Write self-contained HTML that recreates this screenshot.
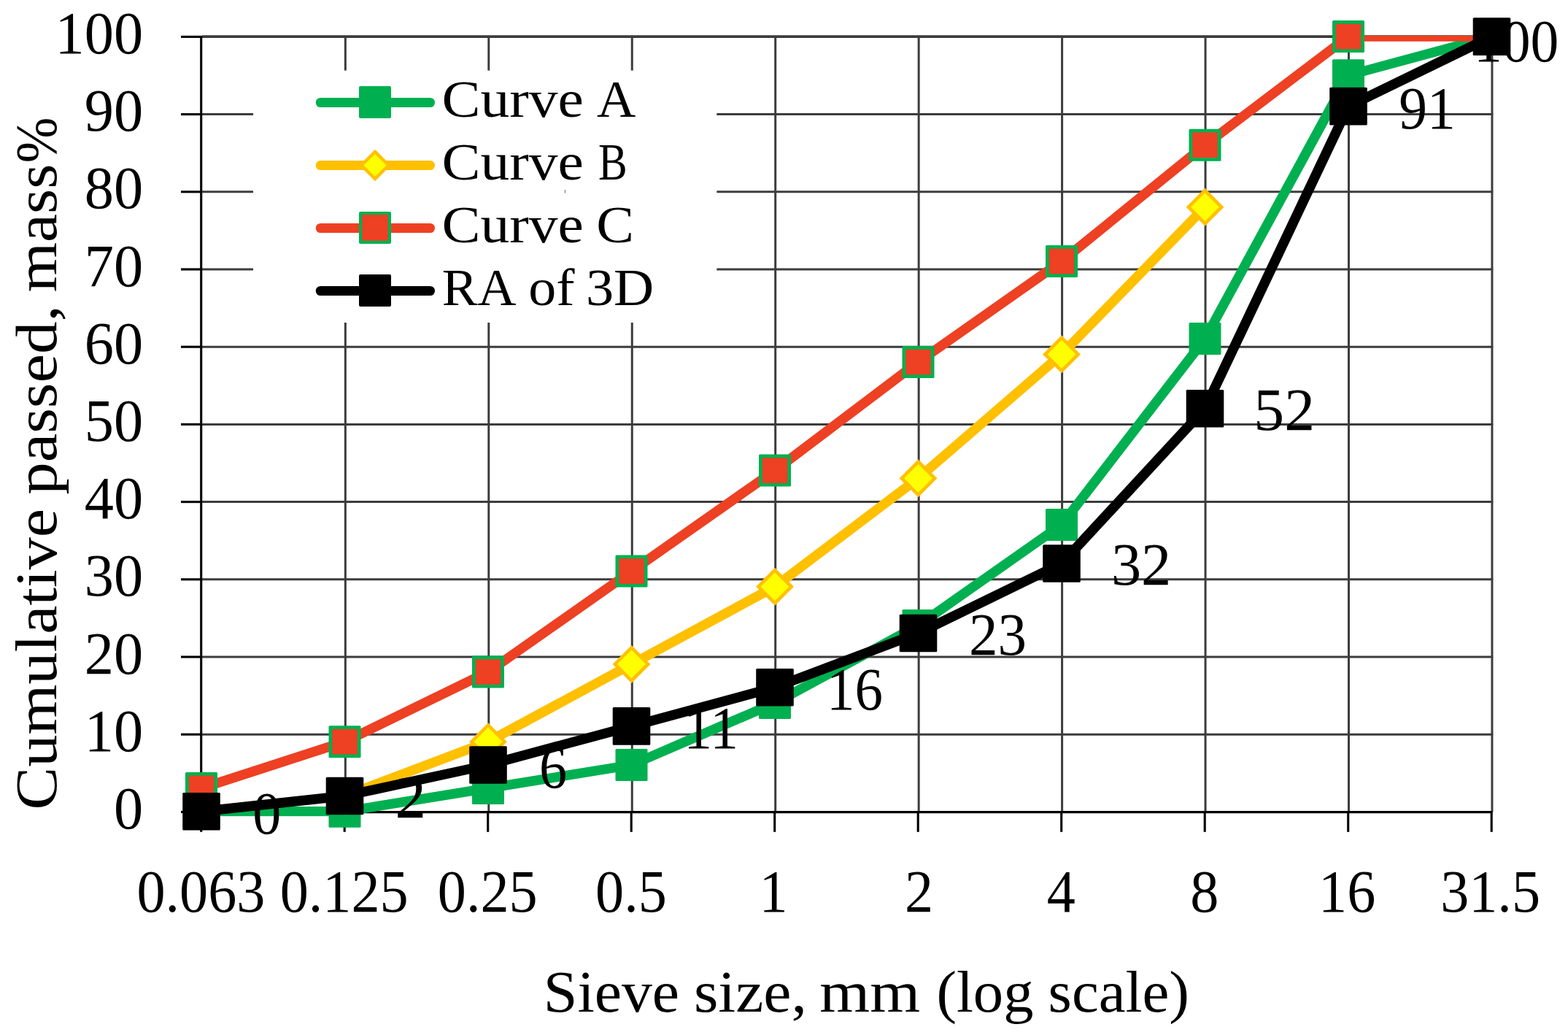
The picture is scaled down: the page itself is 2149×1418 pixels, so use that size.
<!DOCTYPE html>
<html lang="en"><head><meta charset="utf-8"><title>Sieve curve</title>
<style>html,body{margin:0;padding:0;background:#fff;overflow:hidden;}svg{display:block;}text{font-family:"Liberation Serif","DejaVu Serif",serif;fill:#000;}</style></head><body>
<svg width="2149" height="1418" viewBox="0 0 2149 1418">
<rect x="0" y="0" width="2149" height="1418" fill="#fff"/>
<defs><clipPath id="plot"><rect x="200" y="48.8" width="1949" height="1070"/></clipPath></defs>
<g stroke="#3c3c3c" stroke-width="3.0" fill="none">
<line x1="276.9" y1="1006.20" x2="2046.2" y2="1006.20"/>
<line x1="276.9" y1="900.00" x2="2046.2" y2="900.00"/>
<line x1="276.9" y1="793.80" x2="2046.2" y2="793.80"/>
<line x1="276.9" y1="687.60" x2="2046.2" y2="687.60"/>
<line x1="276.9" y1="581.40" x2="2046.2" y2="581.40"/>
<line x1="276.9" y1="475.20" x2="2046.2" y2="475.20"/>
<line x1="276.9" y1="369.00" x2="2046.2" y2="369.00"/>
<line x1="276.9" y1="262.80" x2="2046.2" y2="262.80"/>
<line x1="276.9" y1="156.60" x2="2046.2" y2="156.60"/>
<line x1="276.9" y1="50.05" x2="2046.2" y2="50.05" stroke-width="3.7"/>
<line x1="473.35" y1="49.2" x2="473.35" y2="1112.4"/>
<line x1="669.80" y1="49.2" x2="669.80" y2="1112.4"/>
<line x1="866.25" y1="49.2" x2="866.25" y2="1112.4"/>
<line x1="1062.70" y1="49.2" x2="1062.70" y2="1112.4"/>
<line x1="1259.15" y1="49.2" x2="1259.15" y2="1112.4"/>
<line x1="1455.60" y1="49.2" x2="1455.60" y2="1112.4"/>
<line x1="1652.05" y1="49.2" x2="1652.05" y2="1112.4"/>
<line x1="1848.50" y1="49.2" x2="1848.50" y2="1112.4"/>
<line x1="2044.95" y1="49.2" x2="2044.95" y2="1112.4"/>
</g>
<rect x="347" y="96.6" width="635.3" height="345.4" fill="#fff"/>
<rect x="773.8" y="260" width="1.4" height="4.5" fill="#888"/>
<g stroke="#000" fill="none">
<line x1="275.70" y1="48.9" x2="275.70" y2="1114.3" stroke-width="3.1"/>
<line x1="274.20" y1="1112.60" x2="2045.55" y2="1112.60" stroke-width="3.4"/>
</g>
<g stroke="#000" stroke-width="3.1" fill="none">
<line x1="248" y1="1112.40" x2="275.7" y2="1112.40"/>
<line x1="248" y1="1006.20" x2="275.7" y2="1006.20"/>
<line x1="248" y1="900.00" x2="275.7" y2="900.00"/>
<line x1="248" y1="793.80" x2="275.7" y2="793.80"/>
<line x1="248" y1="687.60" x2="275.7" y2="687.60"/>
<line x1="248" y1="581.40" x2="275.7" y2="581.40"/>
<line x1="248" y1="475.20" x2="275.7" y2="475.20"/>
<line x1="248" y1="369.00" x2="275.7" y2="369.00"/>
<line x1="248" y1="262.80" x2="275.7" y2="262.80"/>
<line x1="248" y1="156.60" x2="275.7" y2="156.60"/>
<line x1="248" y1="50.40" x2="275.7" y2="50.40"/>
<line x1="275.70" y1="1112.6" x2="275.70" y2="1139.8"/>
<line x1="472.20" y1="1112.6" x2="472.20" y2="1139.8"/>
<line x1="668.70" y1="1112.6" x2="668.70" y2="1139.8"/>
<line x1="865.20" y1="1112.6" x2="865.20" y2="1139.8"/>
<line x1="1061.70" y1="1112.6" x2="1061.70" y2="1139.8"/>
<line x1="1258.20" y1="1112.6" x2="1258.20" y2="1139.8"/>
<line x1="1454.70" y1="1112.6" x2="1454.70" y2="1139.8"/>
<line x1="1651.20" y1="1112.6" x2="1651.20" y2="1139.8"/>
<line x1="1847.70" y1="1112.6" x2="1847.70" y2="1139.8"/>
<line x1="2044.20" y1="1112.6" x2="2044.20" y2="1139.8"/>
</g>
<g clip-path="url(#plot)" fill="none" stroke-linejoin="round" stroke-linecap="round">
<polyline points="276.0,1111.7 472.5,1111.7 669.0,1079.9 865.5,1048.0 1062.0,963.1 1258.5,856.9 1455.0,718.9 1651.5,464.1 1848.0,103.2 2044.5,50.1" stroke="#00B050" stroke-width="13.3"/>
</g>
<rect x="254.0" y="1089.7" width="44.0" height="44.0" rx="1.5" fill="#00B050"/>
<rect x="450.5" y="1089.7" width="44.0" height="44.0" rx="1.5" fill="#00B050"/>
<rect x="647.0" y="1057.9" width="44.0" height="44.0" rx="1.5" fill="#00B050"/>
<rect x="843.5" y="1026.0" width="44.0" height="44.0" rx="1.5" fill="#00B050"/>
<rect x="1040.0" y="941.1" width="44.0" height="44.0" rx="1.5" fill="#00B050"/>
<rect x="1236.5" y="834.9" width="44.0" height="44.0" rx="1.5" fill="#00B050"/>
<rect x="1433.0" y="696.9" width="44.0" height="44.0" rx="1.5" fill="#00B050"/>
<rect x="1629.5" y="442.1" width="44.0" height="44.0" rx="1.5" fill="#00B050"/>
<rect x="1826.0" y="81.2" width="44.0" height="44.0" rx="1.5" fill="#00B050"/>
<rect x="2022.5" y="28.1" width="44.0" height="44.0" rx="1.5" fill="#00B050"/>
<g clip-path="url(#plot)" fill="none" stroke-linejoin="round" stroke-linecap="round">
<polyline points="472.5,1090.5 669.0,1016.2 865.5,910.0 1062.0,803.8 1258.5,655.2 1455.0,485.4 1651.5,283.7" stroke="#FFC000" stroke-width="13.3"/>
</g>
<path d="M472.5 1067.7L495.2 1090.5L472.5 1113.2L449.8 1090.5Z" fill="#FFFF00" stroke="#FFC000" stroke-width="4.6" stroke-linejoin="miter" stroke-miterlimit="4"/>
<path d="M669.0 993.4L691.7 1016.2L669.0 1038.9L646.3 1016.2Z" fill="#FFFF00" stroke="#FFC000" stroke-width="4.6" stroke-linejoin="miter" stroke-miterlimit="4"/>
<path d="M865.5 887.2L888.2 910.0L865.5 932.7L842.8 910.0Z" fill="#FFFF00" stroke="#FFC000" stroke-width="4.6" stroke-linejoin="miter" stroke-miterlimit="4"/>
<path d="M1062.0 781.1L1084.7 803.8L1062.0 826.6L1039.3 803.8Z" fill="#FFFF00" stroke="#FFC000" stroke-width="4.6" stroke-linejoin="miter" stroke-miterlimit="4"/>
<path d="M1258.5 632.5L1281.2 655.2L1258.5 678.0L1235.8 655.2Z" fill="#FFFF00" stroke="#FFC000" stroke-width="4.6" stroke-linejoin="miter" stroke-miterlimit="4"/>
<path d="M1455.0 462.6L1477.7 485.4L1455.0 508.1L1432.3 485.4Z" fill="#FFFF00" stroke="#FFC000" stroke-width="4.6" stroke-linejoin="miter" stroke-miterlimit="4"/>
<path d="M1651.5 260.9L1674.2 283.7L1651.5 306.4L1628.8 283.7Z" fill="#FFFF00" stroke="#FFC000" stroke-width="4.6" stroke-linejoin="miter" stroke-miterlimit="4"/>
<g clip-path="url(#plot)" fill="none" stroke-linejoin="round" stroke-linecap="round">
<polyline points="276.0,1079.9 472.5,1016.2 669.0,920.6 865.5,782.6 1062.0,644.6 1258.5,496.0 1455.0,358.0 1651.5,198.7 1848.0,50.1 2044.5,50.1" stroke="#EE4023" stroke-width="13.3"/>
</g>
<rect x="254.0" y="1057.9" width="44.0" height="44.0" rx="1.5" fill="#00B050"/><rect x="258.7" y="1062.6" width="34.6" height="34.6" fill="#EE4023"/>
<rect x="450.5" y="994.2" width="44.0" height="44.0" rx="1.5" fill="#00B050"/><rect x="455.2" y="998.9" width="34.6" height="34.6" fill="#EE4023"/>
<rect x="647.0" y="898.6" width="44.0" height="44.0" rx="1.5" fill="#00B050"/><rect x="651.7" y="903.3" width="34.6" height="34.6" fill="#EE4023"/>
<rect x="843.5" y="760.6" width="44.0" height="44.0" rx="1.5" fill="#00B050"/><rect x="848.2" y="765.3" width="34.6" height="34.6" fill="#EE4023"/>
<rect x="1040.0" y="622.6" width="44.0" height="44.0" rx="1.5" fill="#00B050"/><rect x="1044.7" y="627.3" width="34.6" height="34.6" fill="#EE4023"/>
<rect x="1236.5" y="474.0" width="44.0" height="44.0" rx="1.5" fill="#00B050"/><rect x="1241.2" y="478.7" width="34.6" height="34.6" fill="#EE4023"/>
<rect x="1433.0" y="336.0" width="44.0" height="44.0" rx="1.5" fill="#00B050"/><rect x="1437.7" y="340.7" width="34.6" height="34.6" fill="#EE4023"/>
<rect x="1629.5" y="176.7" width="44.0" height="44.0" rx="1.5" fill="#00B050"/><rect x="1634.2" y="181.4" width="34.6" height="34.6" fill="#EE4023"/>
<rect x="1826.0" y="28.1" width="44.0" height="44.0" rx="1.5" fill="#00B050"/><rect x="1830.7" y="32.8" width="34.6" height="34.6" fill="#EE4023"/>
<rect x="2022.5" y="28.1" width="44.0" height="44.0" rx="1.5" fill="#00B050"/><rect x="2027.2" y="32.8" width="34.6" height="34.6" fill="#EE4023"/>
<g clip-path="url(#plot)" fill="none" stroke-linejoin="round" stroke-linecap="round">
<polyline points="276.0,1111.7 472.5,1090.5 669.0,1048.0 865.5,994.9 1062.0,941.8 1258.5,867.5 1455.0,772.0 1651.5,559.7 1848.0,145.6 2044.5,50.1" stroke="#000000" stroke-width="13.5"/>
</g>
<rect x="250.2" y="1085.9" width="51.6" height="51.6" rx="1.5" fill="#000000"/>
<rect x="446.7" y="1064.7" width="51.6" height="51.6" rx="1.5" fill="#000000"/>
<rect x="643.2" y="1022.2" width="51.6" height="51.6" rx="1.5" fill="#000000"/>
<rect x="839.7" y="969.1" width="51.6" height="51.6" rx="1.5" fill="#000000"/>
<rect x="1036.2" y="916.0" width="51.6" height="51.6" rx="1.5" fill="#000000"/>
<rect x="1232.7" y="841.7" width="51.6" height="51.6" rx="1.5" fill="#000000"/>
<rect x="1429.2" y="746.2" width="51.6" height="51.6" rx="1.5" fill="#000000"/>
<rect x="1625.7" y="533.9" width="51.6" height="51.6" rx="1.5" fill="#000000"/>
<rect x="1822.2" y="119.8" width="51.6" height="51.6" rx="1.5" fill="#000000"/>
<rect x="2018.7" y="24.3" width="51.6" height="51.6" rx="1.5" fill="#000000"/>
<g>
<text transform="translate(346.26,1141.80) scale(0.9771,1.0300)" font-size="80">0</text>
<text transform="translate(541.55,1119.70) scale(1.0607,1.0300)" font-size="80">2</text>
<text transform="translate(739.01,1078.80) scale(0.9545,1.0300)" font-size="80">6</text>
<text transform="translate(937.35,1025.30) scale(0.9682,1.0300)" font-size="80">11</text>
<text transform="translate(1133.08,972.20) scale(0.9628,1.0300)" font-size="80">16</text>
<text transform="translate(1327.93,897.40) scale(0.9880,1.0300)" font-size="80">23</text>
<text transform="translate(1522.94,801.00) scale(1.0290,1.0300)" font-size="80">32</text>
<text transform="translate(1718.37,588.80) scale(1.0469,1.0300)" font-size="80">52</text>
<text transform="translate(1917.17,175.60) scale(0.9708,1.0300)" font-size="80">91</text>
<text transform="translate(2019.93,84.30) scale(0.9708,1.0300)" font-size="80">100</text>
</g>
<g>
<text transform="translate(155.91,1135.00) scale(1.0050,1.0300)" font-size="80">0</text>
<text transform="translate(115.71,1028.80) scale(1.0050,1.0300)" font-size="80">10</text>
<text transform="translate(115.71,922.60) scale(1.0050,1.0300)" font-size="80">20</text>
<text transform="translate(115.71,816.40) scale(1.0050,1.0300)" font-size="80">30</text>
<text transform="translate(115.71,710.20) scale(1.0050,1.0300)" font-size="80">40</text>
<text transform="translate(115.71,604.00) scale(1.0050,1.0300)" font-size="80">50</text>
<text transform="translate(115.71,497.80) scale(1.0050,1.0300)" font-size="80">60</text>
<text transform="translate(115.71,391.60) scale(1.0050,1.0300)" font-size="80">70</text>
<text transform="translate(115.71,285.40) scale(1.0050,1.0300)" font-size="80">80</text>
<text transform="translate(115.71,179.20) scale(1.0050,1.0300)" font-size="80">90</text>
<text transform="translate(75.51,73.00) scale(1.0050,1.0300)" font-size="80">100</text>
</g>
<g>
<text transform="translate(187.43,1249.20) scale(0.9780,1.0300)" font-size="80">0.063</text>
<text transform="translate(383.68,1249.20) scale(0.9780,1.0300)" font-size="80">0.125</text>
<text transform="translate(599.84,1249.20) scale(0.9780,1.0300)" font-size="80">0.25</text>
<text transform="translate(816.10,1249.20) scale(0.9780,1.0300)" font-size="80">0.5</text>
<text transform="translate(1040.42,1249.20) scale(0.9780,1.0300)" font-size="80">1</text>
<text transform="translate(1239.95,1249.20) scale(0.9780,1.0300)" font-size="80">2</text>
<text transform="translate(1434.64,1249.20) scale(0.9780,1.0300)" font-size="80">4</text>
<text transform="translate(1631.14,1249.20) scale(0.9780,1.0300)" font-size="80">8</text>
<text transform="translate(1807.03,1249.20) scale(0.9780,1.0300)" font-size="80">16</text>
<text transform="translate(1974.13,1249.20) scale(0.9780,1.0300)" font-size="80">31.5</text>
</g>
<text transform="translate(0,1386.00) scale(1,1.0000)" font-size="81" y="0" xml:space="preserve"><tspan x="744.76" textLength="186.28" lengthAdjust="spacingAndGlyphs">Sieve</tspan> <tspan x="950.92" textLength="155.05" lengthAdjust="spacingAndGlyphs">size,</tspan> <tspan x="1123.22" textLength="137.87" lengthAdjust="spacingAndGlyphs">mm</tspan> <tspan x="1283.42" textLength="133.07" lengthAdjust="spacingAndGlyphs">(log</tspan> <tspan x="1436.61" textLength="193.39" lengthAdjust="spacingAndGlyphs">scale)</tspan></text>
<text transform="translate(76.50,0) rotate(-90) scale(1,1.0000)" font-size="81" y="0" xml:space="preserve"><tspan x="-1109.66" textLength="412.71" lengthAdjust="spacingAndGlyphs">Cumulative</tspan> <tspan x="-677.79" textLength="259.55" lengthAdjust="spacingAndGlyphs">passed,</tspan> <tspan x="-400.37" textLength="175.69" lengthAdjust="spacingAndGlyphs">mass</tspan><tspan x="-223.35" textLength="62.70" lengthAdjust="spacingAndGlyphs">%</tspan></text>
<line x1="439.3" y1="140.5" x2="589.5" y2="140.5" stroke="#00B050" stroke-width="13.1" stroke-linecap="round"/>
<rect x="492.0" y="118.0" width="44.0" height="44.0" rx="2" fill="#00B050"/>
<text transform="translate(0,159.80) scale(1,1.0400)" font-size="70" y="0" xml:space="preserve"><tspan x="605.52" textLength="194.23" lengthAdjust="spacingAndGlyphs">Curve</tspan> <tspan x="817.90" textLength="53.35" lengthAdjust="spacingAndGlyphs">A</tspan></text>
<line x1="439.3" y1="226.5" x2="589.5" y2="226.5" stroke="#FFC000" stroke-width="13.1" stroke-linecap="round"/>
<path d="M514.0 207.9L532.6 226.5L514.0 245.1L495.4 226.5Z" fill="#FFFF00" stroke="#FFC000" stroke-width="4.4" stroke-linejoin="miter" stroke-miterlimit="4"/>
<text transform="translate(0,245.80) scale(1,1.0400)" font-size="70" y="0" xml:space="preserve"><tspan x="605.52" textLength="194.23" lengthAdjust="spacingAndGlyphs">Curve</tspan> <tspan x="820.07" textLength="39.73" lengthAdjust="spacingAndGlyphs">B</tspan></text>
<line x1="439.3" y1="312.5" x2="589.5" y2="312.5" stroke="#EE4023" stroke-width="13.1" stroke-linecap="round"/>
<rect x="492.0" y="290.0" width="44.0" height="44.0" rx="2" fill="#00B050"/><rect x="496.2" y="294.2" width="35.6" height="35.6" fill="#EE4023"/>
<text transform="translate(0,331.80) scale(1,1.0400)" font-size="70" y="0" xml:space="preserve"><tspan x="605.52" textLength="194.23" lengthAdjust="spacingAndGlyphs">Curve</tspan> <tspan x="817.38" textLength="51.67" lengthAdjust="spacingAndGlyphs">C</tspan></text>
<line x1="439.3" y1="398.5" x2="589.5" y2="398.5" stroke="#000000" stroke-width="13.1" stroke-linecap="round"/>
<rect x="492.0" y="376.0" width="44.0" height="44.0" rx="2" fill="#000000"/>
<text transform="translate(0,417.80) scale(1,1.0400)" font-size="70" y="0" xml:space="preserve"><tspan x="605.76" textLength="101.80" lengthAdjust="spacingAndGlyphs">RA</tspan> <tspan x="724.23" textLength="63.26" lengthAdjust="spacingAndGlyphs">of</tspan> <tspan x="802.92" textLength="93.33" lengthAdjust="spacingAndGlyphs">3D</tspan></text>
</svg></body></html>
